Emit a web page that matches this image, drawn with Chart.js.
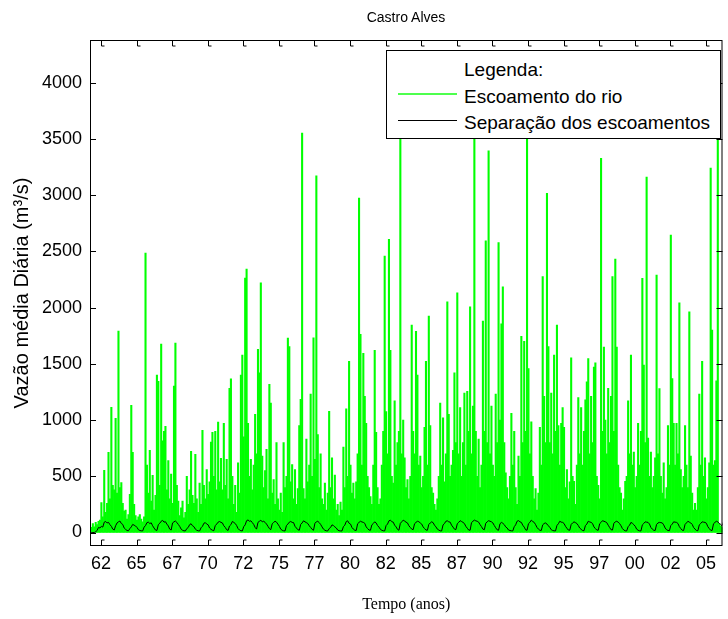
<!DOCTYPE html>
<html lang="pt">
<head>
<meta charset="utf-8">
<title>Castro Alves</title>
<script src="https://cdn.jsdelivr.net/npm/chart.js@4.4.0/dist/chart.umd.min.js"></script>
<style>
  html, body { margin: 0; padding: 0; background: #fff; }
  #quadro { position: relative; width: 728px; height: 619px; font-family: 'Liberation Sans', Arial, sans-serif; color: #000; }
  #grafico { position: absolute; left: 0; top: 0; }
  #titulo { position: absolute; left: 90px; width: 632px; top: 8px; text-align: center; font-size: 14px; line-height: 18px; }
  #legenda { position: absolute; left: 386px; top: 50px; width: 333px; height: 87px; border: 1px solid #000; background: #fff; font-size: 19px; }
  .linha-leg { position: absolute; left: 77px; line-height: 26px; white-space: nowrap; }
  .amostra { position: absolute; left: 11px; width: 59px; height: 0; }
</style>
</head>
<body>
<div id="quadro">
  <canvas id="grafico" width="728" height="619"></canvas>
  <div id="titulo">Castro Alves</div>
  <div id="legenda">
    <div class="linha-leg" style="top:6px">Legenda:</div>
    <span class="amostra" style="top:42px;border-top:2px solid #4dff4d"></span>
    <div class="linha-leg" style="top:33px">Escoamento do rio</div>
    <span class="amostra" style="top:69px;border-top:1px solid #000"></span>
    <div class="linha-leg" style="top:59px">Separação dos escoamentos</div>
  </div>
</div>
<script>
// vazão diária: máximo de cada intervalo de 0,1 ano, a partir de 1961,23
const anoInicial = 1961.23;
const passoRio = 0.1;
const vazaoRio = [
  60, 45, 80, 50, 90, 70, 100, 110, 267, 140,
  552, 180, 260, 713, 300, 1114, 420, 380, 1016, 350,
  1791, 400, 445, 260, 190, 200, 120, 160, 340, 1131,
  713, 250, 150, 110, 140, 160, 120, 95, 140, 2485,
  600, 350, 730, 280, 508, 200, 330, 1399, 1345, 420,
  1675, 816, 900, 944, 380, 640, 300, 520, 260, 1303,
  1684, 420, 280, 150, 220, 280, 130, 180, 499, 250,
  380, 722, 330, 260, 695, 300, 180, 440, 250, 909,
  420, 300, 560, 340, 450, 804, 890, 500, 900, 380,
  983, 450, 660, 380, 971, 420, 650, 300, 1283, 1366,
  500, 250, 420, 180, 620, 350, 1399, 1577, 850, 2262,
  2343, 970, 500, 650, 380, 600, 1050, 700, 1630, 1420,
  2221, 680, 400, 550, 740, 300, 1318, 1150, 350, 470,
  250, 800, 300, 200, 350, 180, 800, 400, 500, 1728,
  1654, 450, 605, 300, 560, 250, 390, 950, 1185, 3552,
  390, 300, 830, 450, 600, 1230, 500, 1732, 650, 3171,
  870, 400, 700, 300, 250, 440, 200, 350, 1078, 400,
  665, 300, 510, 200, 250, 150, 270, 200, 760, 400,
  1100, 500, 1523, 600, 350, 440, 300, 450, 700, 2975,
  1762, 600, 1593, 1210, 970, 500, 400, 320, 250, 600,
  1621, 890, 400, 250, 300, 600, 900, 2459, 1075, 700,
  2607, 1621, 500, 440, 1170, 600, 800, 900, 4200, 700,
  1000, 665, 400, 470, 300, 500, 1844, 900, 700, 1790,
  1400, 600, 680, 400, 500, 935, 1523, 600, 1924, 950,
  400, 350, 250, 200, 300, 500, 1150, 600, 1020, 450,
  700, 2052, 1050, 500, 600, 730, 1419, 800, 2132, 700,
  1110, 500, 800, 1240, 600, 1255, 900, 2007, 700, 1125,
  3800, 900, 500, 830, 400, 600, 1880, 900, 2593, 800,
  3394, 700, 1125, 600, 500, 1230, 800, 2578, 1000, 1856,
  2185, 800, 530, 400, 300, 500, 1060, 600, 900, 400,
  250, 680, 500, 1745, 800, 1700, 900, 3950, 1457, 700,
  985, 500, 300, 390, 200, 350, 935, 600, 2275, 1210,
  800, 3017, 1654, 800, 1240, 700, 1577, 900, 1844, 950,
  600, 970, 1110, 935, 400, 560, 300, 450, 1553, 500,
  455, 250, 600, 1200, 700, 1110, 600, 900, 1180, 1340,
  1547, 700, 1210, 800, 1472, 1510, 500, 420, 300, 3328,
  900, 1650, 1000, 700, 1283, 800, 1210, 2275, 900, 2432,
  1650, 600, 400, 350, 200, 300, 455, 500, 1170, 700,
  1577, 600, 715, 400, 500, 970, 600, 900, 2260, 1490,
  800, 3160, 840, 500, 715, 400, 500, 665, 2290, 700,
  1280, 500, 350, 620, 300, 400, 950, 600, 2646, 1370,
  970, 600, 970, 700, 2043, 560, 400, 500, 950, 600,
  400, 1963, 680, 350, 200, 260, 200, 400, 1230, 600,
  1523, 500, 665, 300, 400, 620, 3240, 1800, 600, 640,
  1350, 3700, 80, 60, 50, 40
];

// escoamento de base separado, a cada 0,1 ano
const passoBase = 0.1;
const vazaoBase = [
  0, 0, 0, 0, 5, 20, 45, 40, 55, 48,
  92, 98, 85, 90, 70, 55, 30, 22, 60, 85,
  95, 102, 80, 72, 40, 28, 18, 15, 35, 50,
  72, 65, 58, 45, 25, 18, 15, 14, 48, 62,
  88, 92, 80, 86, 60, 40, 22, 18, 70, 82,
  100, 108, 92, 96, 75, 58, 30, 22, 85, 95,
  102, 90, 72, 55, 30, 20, 15, 14, 35, 45,
  70, 78, 60, 52, 30, 20, 15, 14, 42, 55,
  82, 88, 75, 68, 40, 28, 20, 16, 62, 75,
  92, 98, 90, 85, 60, 45, 25, 18, 58, 70,
  98, 90, 80, 62, 35, 22, 16, 14, 52, 68,
  105, 112, 100, 104, 88, 72, 45, 30, 90, 100,
  108, 96, 100, 90, 75, 55, 35, 25, 78, 90,
  100, 92, 75, 55, 30, 20, 15, 14, 62, 75,
  92, 98, 90, 88, 55, 40, 25, 20, 72, 85,
  104, 95, 88, 80, 60, 45, 28, 20, 82, 95,
  100, 88, 72, 50, 30, 20, 15, 14, 35, 45,
  68, 62, 50, 40, 22, 16, 14, 14, 52, 65,
  98, 104, 82, 75, 45, 30, 20, 18, 78, 90,
  100, 94, 90, 82, 50, 35, 22, 20, 68, 80,
  95, 85, 62, 48, 28, 20, 15, 14, 62, 75,
  104, 110, 96, 92, 65, 50, 28, 20, 82, 95,
  110, 102, 92, 85, 60, 45, 30, 25, 78, 90,
  100, 96, 85, 75, 50, 35, 22, 20, 72, 85,
  95, 88, 65, 50, 30, 22, 15, 14, 68, 80,
  100, 104, 95, 92, 65, 48, 30, 25, 78, 90,
  105, 98, 90, 80, 55, 38, 22, 20, 88, 100,
  110, 104, 100, 92, 70, 52, 30, 25, 82, 95,
  105, 100, 95, 85, 62, 42, 24, 20, 78, 90,
  82, 70, 50, 40, 22, 18, 15, 14, 52, 68,
  100, 106, 95, 90, 65, 48, 24, 20, 78, 90,
  110, 98, 90, 70, 45, 30, 20, 18, 68, 80,
  85, 75, 60, 45, 25, 18, 15, 14, 62, 78,
  100, 92, 90, 80, 55, 38, 22, 20, 72, 85,
  95, 88, 80, 62, 40, 28, 18, 16, 62, 75,
  100, 94, 90, 80, 50, 35, 22, 20, 78, 90,
  105, 100, 95, 88, 65, 45, 25, 22, 82, 95,
  100, 92, 80, 60, 35, 22, 15, 14, 52, 65,
  90, 82, 70, 55, 30, 20, 15, 14, 68, 80,
  95, 92, 90, 75, 45, 30, 20, 18, 72, 85,
  90, 88, 85, 68, 40, 25, 18, 16, 62, 75,
  95, 92, 90, 80, 52, 35, 20, 18, 72, 85,
  100, 92, 85, 72, 45, 30, 18, 16, 68, 80,
  95, 92, 90, 82, 52, 35, 20, 18, 78, 90,
  100, 95, 80, 72, 60, 95
];

const anosTicks = [1962, 1964.5, 1967, 1969.5, 1972, 1974.5, 1977, 1979.5, 1982,
  1984.5, 1987, 1989.5, 1992, 1994.5, 1997, 1999.5, 2002, 2004.5];
const rotulosAnos = ['62', '65', '67', '70', '72', '75', '77', '80', '82',
  '85', '87', '90', '92', '95', '97', '00', '02', '05'];
const ticksVazao = [0, 500, 1000, 1500, 2000, 2500, 3000, 3500, 4000];

const pontosRio = vazaoRio.map((v, i) => ({ x: anoInicial + i * passoRio, y: v }));
const pontosBase = vazaoBase.map((v, i) => ({ x: anoInicial + i * passoBase, y: v }));

// moldura fechada com marcas para dentro, nos quatro lados
const molduraEixos = {
  id: 'molduraEixos',
  afterDatasetsDraw(chart) {
    const { ctx, chartArea: { left, right, top, bottom }, scales: { x, y } } = chart;
    const t = 6;
    ctx.save();
    ctx.strokeStyle = '#000';
    ctx.lineWidth = 1;
    ctx.strokeRect(left + 0.5, top + 0.5, right - left - 1, bottom - top - 1);
    ctx.beginPath();
    anosTicks.forEach(a => {
      const px = Math.round(x.getPixelForValue(a)) + 0.5;
      ctx.moveTo(px, bottom);
      ctx.lineTo(px, bottom - t);
      ctx.lineTo(px + 3, bottom - t);
      ctx.moveTo(px, top);
      ctx.lineTo(px, top + t);
      ctx.lineTo(px + 3, top + t);
    });
    ticksVazao.forEach(v => {
      const py = Math.round(y.getPixelForValue(v)) + 0.5;
      ctx.moveTo(left, py);
      ctx.lineTo(left + t, py);
      ctx.moveTo(right, py);
      ctx.lineTo(right - t, py);
    });
    ctx.stroke();
    ctx.restore();
  }
};

const fonteEixo = { family: "'Liberation Sans', Arial, sans-serif", size: 18 };

new Chart(document.getElementById('grafico'), {
  type: 'bar',
  data: {
    datasets: [
      {
        type: 'line',
        label: 'Separação dos escoamentos',
        data: pontosBase,
        borderColor: '#000',
        borderWidth: 1,
        pointRadius: 0,
        tension: 0,
        order: 0
      },
      {
        type: 'bar',
        label: 'Escoamento do rio',
        data: pontosRio,
        backgroundColor: '#00ff00',
        borderWidth: 0,
        barPercentage: 1,
        categoryPercentage: 1,
        order: 1
      }
    ]
  },
  options: {
    responsive: false,
    animation: false,
    devicePixelRatio: 1,
    layout: { padding: { top: 40, right: 5.5, left: 0, bottom: 0 } },
    plugins: {
      legend: { display: false },
      tooltip: { enabled: false }
    },
    scales: {
      x: {
        type: 'linear',
        min: 1961.23,
        max: 2005.66,
        offset: false,
        grid: { display: false, drawTicks: false },
        border: { display: false },
        afterBuildTicks: s => { s.ticks = anosTicks.map(v => ({ value: v })); },
        afterFit: s => { s.height = 73; },
        ticks: {
          autoSkip: false,
          maxRotation: 0,
          minRotation: 0,
          padding: 7,
          color: '#000',
          font: fonteEixo,
          callback: (v, i) => rotulosAnos[i]
        },
        title: {
          display: true,
          text: 'Tempo (anos)',
          color: '#000',
          font: { family: "'Liberation Serif', 'Times New Roman', serif", size: 16 },
          padding: { top: 0, bottom: 5 }
        }
      },
      y: {
        min: -120,
        max: 4380,
        grid: { display: false, drawTicks: false },
        border: { display: false },
        afterBuildTicks: s => { s.ticks = ticksVazao.map(v => ({ value: v })); },
        afterFit: s => { s.width = 90; },
        ticks: {
          padding: 8,
          color: '#000',
          font: fonteEixo,
          callback: v => String(v)
        },
        title: {
          display: true,
          text: 'Vazão média Diária (m³/s)',
          color: '#000',
          font: { family: "'Liberation Sans', Arial, sans-serif", size: 20 },
          padding: { top: 10, bottom: 0 }
        }
      }
    }
  },
  plugins: [molduraEixos]
});
</script>
</body>
</html>
